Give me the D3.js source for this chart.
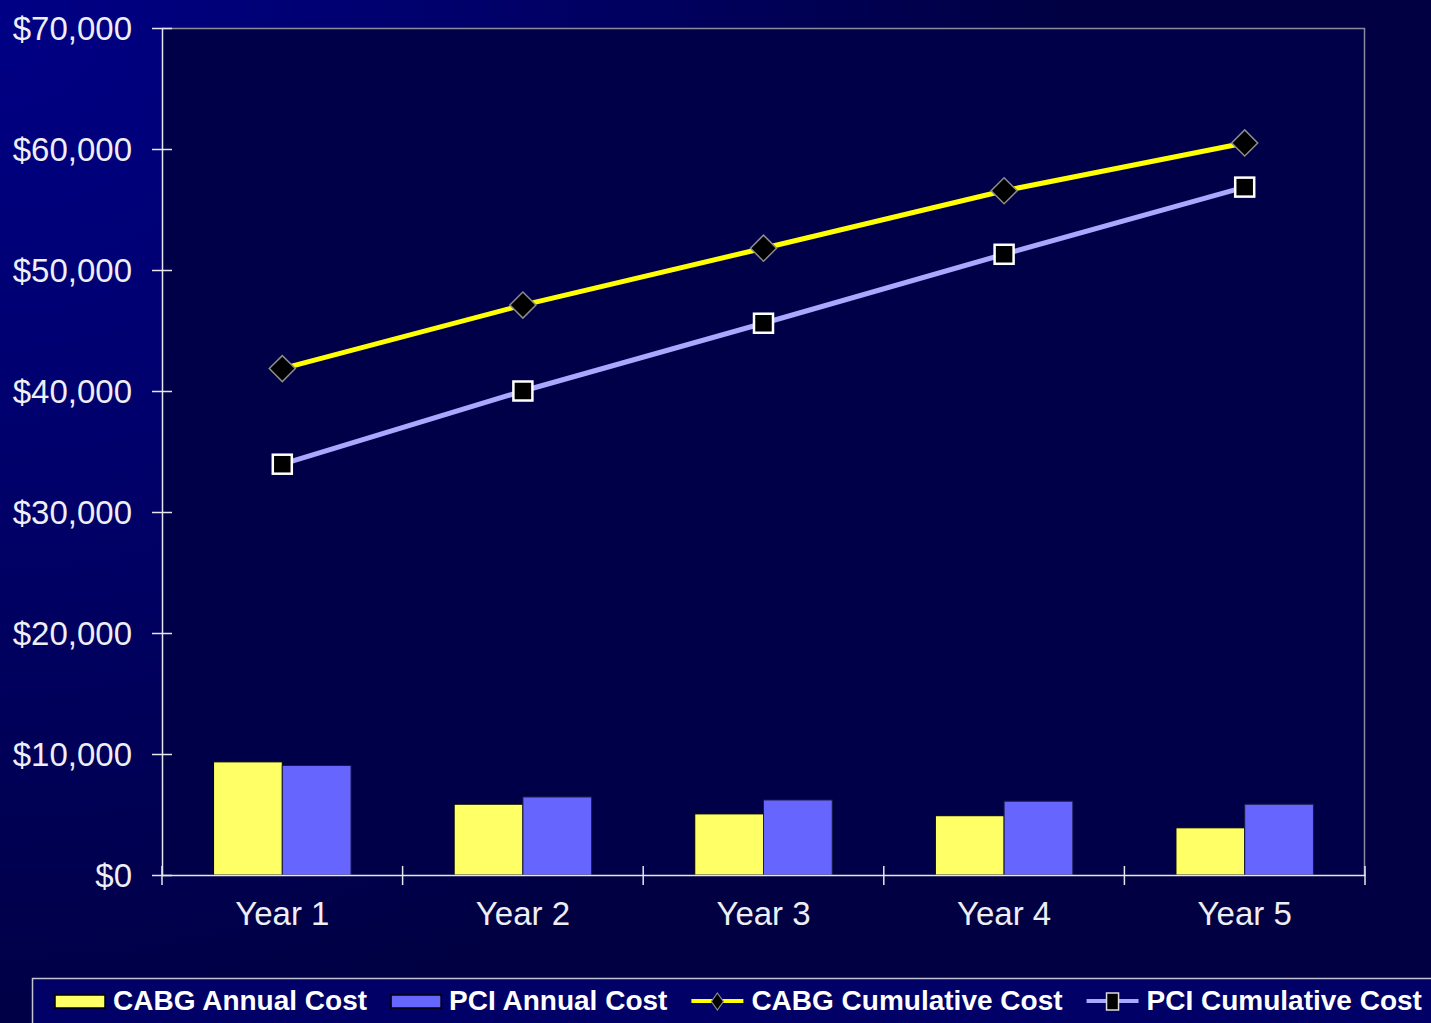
<!DOCTYPE html>
<html>
<head>
<meta charset="utf-8">
<script src="https://cdn.jsdelivr.net/npm/d3@7"></script>
<style>
  html, body { margin: 0; padding: 0; background: #000048; overflow: hidden; }
  svg { display: block; }
  text { font-family: "Liberation Sans", Arial, sans-serif; }
</style>
</head>
<body>
<svg id="chart" width="1431" height="1023"></svg>
<script>
// Five-year cost comparison, CABG vs PCI (US dollars)
const years = ["Year 1", "Year 2", "Year 3", "Year 4", "Year 5"];
const cabgAnnual = [9350, 5850, 5050, 4900, 3900];
const pciAnnual = [9050, 6450, 6200, 6100, 5850];
const cabgCumulative = [41850, 47100, 51800, 56550, 60500];
const pciCumulative = [33950, 40000, 45600, 51300, 56850];
const yTicks = [0, 10000, 20000, 30000, 40000, 50000, 60000, 70000];
const seriesNames = ["CABG Annual Cost", "PCI Annual Cost", "CABG Cumulative Cost", "PCI Cumulative Cost"];

const W = 1431, H = 1023;
const margin = { left: 162, right: 66, top: 28, bottom: 148 };
const plotW = W - margin.left - margin.right;
const plotH = H - margin.top - margin.bottom;

const svg = d3.select("#chart");
const defs = svg.append("defs");

// slide-style background: bright blue in the top-left fading to deep navy
const bg = defs.append("radialGradient")
  .attr("id", "bgGrad")
  .attr("gradientUnits", "userSpaceOnUse")
  .attr("cx", 0).attr("cy", 0).attr("r", 1080);
bg.append("stop").attr("offset", 0).attr("stop-color", "#000086");
bg.append("stop").attr("offset", 0.45).attr("stop-color", "#00006a");
bg.append("stop").attr("offset", 1).attr("stop-color", "#000042");
svg.append("rect").attr("width", W).attr("height", H).attr("fill", "url(#bgGrad)");

const g = svg.append("g").attr("transform", `translate(${margin.left},${margin.top})`);

const x = d3.scaleBand().domain(years).range([0, plotW]).paddingInner(0).paddingOuter(0);
const y = d3.scaleLinear().domain([0, 70000]).range([plotH, 0]);

// plot area
g.append("rect")
  .attr("width", plotW).attr("height", plotH)
  .attr("fill", "#000048");
// top and right frame
g.append("path")
  .attr("d", `M0,0.5H${plotW - 0.5}V${plotH}`)
  .attr("fill", "none").attr("stroke", "#8a8a9a").attr("stroke-width", 1.5);

// grouped bars: gap width 150% of bar width
const barW = x.bandwidth() / 3.5;
const inner = d3.scaleBand().domain(["cabg", "pci"]).range([0, barW * 2]);

const barGroups = g.append("g").selectAll("g")
  .data(years)
  .join("g")
  .attr("transform", d => `translate(${x(d) + (x.bandwidth() - barW * 2) / 2},0)`);

barGroups.append("rect")
  .attr("x", inner("cabg"))
  .attr("width", barW)
  .attr("y", (d, i) => y(cabgAnnual[i]))
  .attr("height", (d, i) => plotH - y(cabgAnnual[i]))
  .attr("fill", "#ffff66").attr("stroke", "#000000").attr("stroke-width", 1);

barGroups.append("rect")
  .attr("x", inner("pci"))
  .attr("width", barW)
  .attr("y", (d, i) => y(pciAnnual[i]))
  .attr("height", (d, i) => plotH - y(pciAnnual[i]))
  .attr("fill", "#6666ff").attr("stroke", "#1a1a40").attr("stroke-width", 1);

// axes
const yAxis = d3.axisLeft(y).tickValues(yTicks)
  .tickFormat(d => "$" + d3.format(",")(d))
  .tickSizeInner(10).tickSizeOuter(0).tickPadding(20);
const yA = g.append("g").call(yAxis);
yA.select(".domain").attr("stroke", "#e6e6ee").attr("stroke-width", 1.5);
yA.selectAll(".tick line").attr("x2", 10).attr("x1", -10).attr("stroke", "#e6e6ee").attr("stroke-width", 1.5);
yA.selectAll(".tick text")
  .attr("x", -30)
  .attr("fill", "#eeeef4")
  .attr("font-size", 33)
  .attr("dy", "0.34em");

const xAxis = d3.axisBottom(x).tickSize(0).tickPadding(0);
const xA = g.append("g").attr("transform", `translate(0,${plotH})`).call(xAxis);
xA.select(".domain").attr("stroke", "#e6e6ee").attr("stroke-width", 1.5);
xA.selectAll(".tick text")
  .attr("y", 50)
  .attr("dy", 0)
  .attr("fill", "#eeeef4")
  .attr("font-size", 33);
// category boundary ticks crossing the axis line
const bounds = years.map(d => x(d)).concat([plotW]);
xA.selectAll(".bound")
  .data(bounds)
  .join("line")
  .attr("class", "bound")
  .attr("x1", d => d).attr("x2", d => d)
  .attr("y1", -9).attr("y2", 10)
  .attr("stroke", "#e6e6ee").attr("stroke-width", 1.5);

// cumulative lines
const cx = d => x(d) + x.bandwidth() / 2;
const line = d3.line().x(d => cx(d[0])).y(d => y(d[1]));

g.append("path")
  .datum(years.map((d, i) => [d, cabgCumulative[i]]))
  .attr("d", line)
  .attr("fill", "none").attr("stroke", "#ffff00").attr("stroke-width", 5);

g.append("path")
  .datum(years.map((d, i) => [d, pciCumulative[i]]))
  .attr("d", line)
  .attr("fill", "none").attr("stroke", "#a8a8ff").attr("stroke-width", 5);

const diamond = d3.symbol().type(d3.symbolSquare).size(340);
g.append("g").selectAll("path")
  .data(years)
  .join("path")
  .attr("d", diamond)
  .attr("transform", (d, i) => `translate(${cx(d)},${y(cabgCumulative[i])}) rotate(45)`)
  .attr("fill", "#000000").attr("stroke", "#8c8c8c").attr("stroke-width", 1.5);

g.append("g").selectAll("rect")
  .data(years)
  .join("rect")
  .attr("x", d => cx(d) - 9.5)
  .attr("y", (d, i) => y(pciCumulative[i]) - 9.5)
  .attr("width", 19).attr("height", 19)
  .attr("fill", "#000000").attr("stroke", "#ffffff").attr("stroke-width", 2.5);

// legend
const leg = svg.append("g").attr("transform", "translate(32,978)");
leg.append("rect")
  .attr("x", 0.5).attr("y", 0.5)
  .attr("width", W).attr("height", 60)
  .attr("fill", "#000066").attr("stroke", "#c4c4d0").attr("stroke-width", 1.5);

const legendItems = [
  { name: seriesNames[0], kind: "bar", fill: "#ffff66", stroke: "#000000" },
  { name: seriesNames[1], kind: "bar", fill: "#6666ff", stroke: "#000000" },
  { name: seriesNames[2], kind: "line", color: "#ffff00", marker: "diamond" },
  { name: seriesNames[3], kind: "line", color: "#a8a8ff", marker: "square" }
];

let lx = 23;
const textBase = 32;
legendItems.forEach(item => {
  const ig = leg.append("g").attr("transform", `translate(${lx},0)`);
  let swW;
  if (item.kind === "bar") {
    swW = 50;
    ig.append("rect").attr("x", 0).attr("y", 17).attr("width", swW).attr("height", 13)
      .attr("fill", item.fill).attr("stroke", item.stroke).attr("stroke-width", 1.5);
  } else {
    swW = 52;
    ig.append("line").attr("x1", 0).attr("x2", swW).attr("y1", 23).attr("y2", 23)
      .attr("stroke", item.color).attr("stroke-width", 4);
    if (item.marker === "diamond") {
      const m = swW / 2;
      ig.append("path").attr("d", `M${m},15L${m + 6},23.5L${m},32L${m - 6},23.5Z`)
        .attr("fill", "#000").attr("stroke", "#8c8c8c").attr("stroke-width", 1.2);
    } else {
      ig.append("rect").attr("x", swW / 2 - 6).attr("y", 15).attr("width", 12).attr("height", 17)
        .attr("fill", "#000").attr("stroke", "#dcdcdc").attr("stroke-width", 1.5);
    }
  }
  const t = ig.append("text")
    .attr("x", swW + 8).attr("y", textBase)
    .attr("fill", "#ffffff")
    .attr("font-size", 28).attr("font-weight", "bold")
    .text(item.name);
  lx += swW + 8 + t.node().getComputedTextLength() + 24;
});
</script>
</body>
</html>
